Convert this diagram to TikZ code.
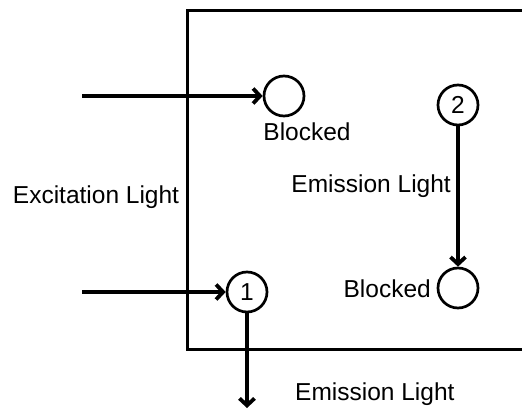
\documentclass[tikz,border=0pt]{standalone}
\usepackage{fontspec}
\setmainfont{Liberation Sans}
\usetikzlibrary{arrows.meta}
\begin{document}
\begin{tikzpicture}[x=1pt,y=-1pt,
  lbl/.style={inner sep=0pt,font=\fontsize{24.5}{29}\selectfont},
  dot/.style={circle,draw,line width=2.7pt,minimum size=40pt,inner sep=0pt,font=\fontsize{24.5}{29}\selectfont},
  ray/.style={line width=3.8pt,-{Straight Barb[length=7pt,width=15pt]}},
  frame/.style={line width=3pt}]
\useasboundingbox (0,0) rectangle (522,409);
\draw[frame] (526,11) -- (187,11) -- (187,349) -- (526,349);
\node[dot] (b1) at (284,96) {};
\node[dot] (n2) at (458,105) {2};
\node[dot] (b2) at (458,288) {};
\node[dot] (n1) at (247,292) {1};
\coordinate (s1) at (82,96);
\coordinate (s2) at (82,292);
\coordinate (e1) at (247,408);
\draw[ray] (s1) -- (b1.west);
\draw[ray] (s2) -- (n1.west);
\draw[ray] (n2.south) -- (b2.north);
\draw[ray] (n1.south) -- (e1);
\node[lbl,anchor=base] (t1) at (307,140.5) {Blocked};
\node[lbl,anchor=base east] (t2) at (431,297) {Blocked};
\node[lbl,anchor=base east] (t3) at (451,193) {Emission Light};
\node[lbl,anchor=base] (t4) at (96,203) {Excitation Light};
\node[lbl,anchor=base west] (t5) at (295,400) {Emission Light};
\end{tikzpicture}
\end{document}
